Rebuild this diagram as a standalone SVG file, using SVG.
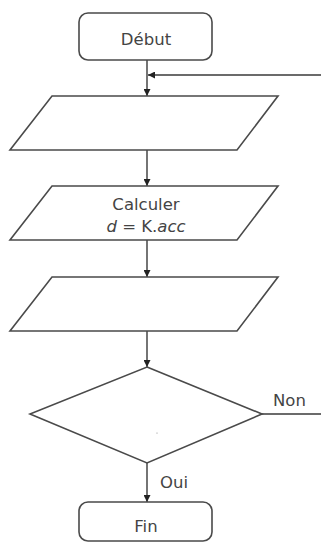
<svg xmlns="http://www.w3.org/2000/svg" width="321" height="545" viewBox="0 0 321 545">
<defs>
<style>
.s{fill:#fff;stroke:#4a4a4a;stroke-width:1.6}
.c{fill:none;stroke:#3a3a3a;stroke-width:1.4}
.t{font-family:"DejaVu Sans","Liberation Sans",sans-serif;font-size:16.5px;fill:#444}
</style>
<marker id="a" viewBox="0 0 10 10" refX="10" refY="5" markerWidth="7" markerHeight="7" markerUnits="userSpaceOnUse" orient="auto">
<path d="M0,0 L10,5 L0,10 z" fill="#222"/>
</marker>
</defs>
<rect width="321" height="545" fill="#fff"/>
<g id="connectors">
<line class="c" x1="147" y1="60" x2="147" y2="96" marker-end="url(#a)"/>
<line class="c" x1="321" y1="75" x2="148" y2="75" marker-end="url(#a)"/>
<line class="c" x1="147" y1="150" x2="147" y2="186" marker-end="url(#a)"/>
<line class="c" x1="147" y1="240" x2="147" y2="277" marker-end="url(#a)"/>
<line class="c" x1="147" y1="331" x2="147" y2="367" marker-end="url(#a)"/>
<line class="c" x1="262" y1="414" x2="321" y2="414"/>
<line class="c" x1="147" y1="463" x2="147" y2="502" marker-end="url(#a)"/>
<text class="t" x="273" y="406">Non</text>
<text class="t" x="160" y="488">Oui</text>
</g>
<g id="debut">
<rect class="s" x="79" y="13" width="133" height="47" rx="9"/>
<text class="t" x="146" y="45" text-anchor="middle">Début</text>
</g>
<g id="input1">
<polygon class="s" points="52,96 278,96 237,150 10,150"/>
</g>
<g id="calc">
<polygon class="s" points="52,186 278,186 237,240 10,240"/>
<text class="t" x="146" y="210" text-anchor="middle">Calculer</text>
<text class="t" x="146" y="232" text-anchor="middle"><tspan font-style="italic">d</tspan> = K.<tspan font-style="italic">acc</tspan></text>
</g>
<g id="output1">
<polygon class="s" points="52,277 278,277 237,331 10,331"/>
</g>
<g id="decision">
<polygon class="s" points="147,367 262,414 147,463 30,414"/>
<circle cx="157" cy="433" r="0.6" fill="#888"/>
</g>
<g id="fin">
<rect class="s" x="79" y="502" width="133" height="39" rx="9"/>
<text class="t" x="146" y="532" text-anchor="middle">Fin</text>
</g>
</svg>
